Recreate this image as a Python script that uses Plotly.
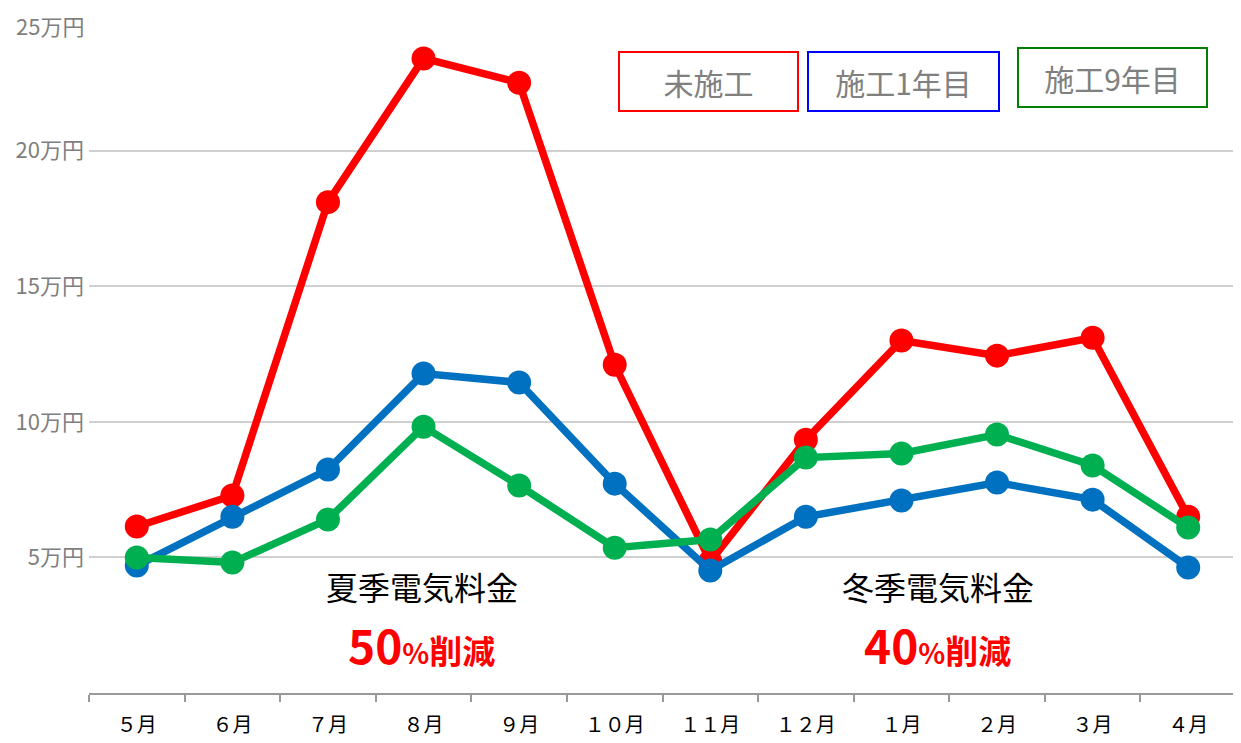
import plotly.graph_objects as go

months = ["５月", "６月", "７月", "８月", "９月", "１０月", "１１月", "１２月", "１月", "２月", "３月", "４月"]
untreated = [6.14, 7.28, 18.1, 23.4, 22.5, 12.1, 4.85, 9.34, 13.0, 12.44, 13.1, 6.5]
year1 = [4.7, 6.5, 8.24, 11.78, 11.45, 7.72, 4.52, 6.5, 7.1, 7.76, 7.13, 4.63]
year9 = [5.0, 4.81, 6.4, 9.82, 7.65, 5.36, 5.66, 8.68, 8.83, 9.53, 8.39, 6.1]
ytick_vals = [5, 10, 15, 20, 25]
ytick_text = ["5万円", "10万円", "15万円", "20万円", "25万円"]
series_names = ["未施工", "施工1年目", "施工9年目"]

RED = "#FF0000"
BLUE = "#0070C0"
GREEN = "#00B050"
FONT = "Noto Sans CJK JP"
YLABEL_FONT = dict(size=22, color="#7F7F7F", family=FONT)

fig = go.Figure()
for name, vals, col in [(series_names[0], untreated, RED),
                        (series_names[1], year1, BLUE),
                        (series_names[2], year9, GREEN)]:
    fig.add_trace(go.Scatter(
        x=months, y=vals, name=name, mode="lines+markers",
        line=dict(color=col, width=7.5),
        marker=dict(color=col, size=24),
        showlegend=False,
    ))

# the top tick label would be clipped at the page edge, so it is drawn
# as an annotation nudged slightly below its gridline (as in the original)
tick_text_axis = ytick_text[:-1] + [""]

# page body has an 8px margin, so the figure is sized/offset to compensate
fig.update_layout(
    width=1233, height=735,
    margin=dict(l=81, r=5, t=7, b=50),
    plot_bgcolor="white", paper_bgcolor="white",
    font=dict(family=FONT),
    xaxis=dict(
        type="category", range=[-0.5, 11.5], automargin=False,
        showline=True, linecolor="#999999", linewidth=2,
        ticks="outside", ticklen=7, tickwidth=2, tickcolor="#999999",
        tickson="boundaries", showgrid=False,
        tickfont=dict(size=20, color="#000000", family=FONT),
        ticklabelstandoff=13,
    ),
    yaxis=dict(
        range=[0, 25], tickvals=ytick_vals, ticktext=tick_text_axis, automargin=False,
        showgrid=True, gridcolor="#D0D0D0", gridwidth=1.5,
        zeroline=False, showline=False, ticks="",
        tickfont=YLABEL_FONT,
        ticklabelstandoff=4, ticklabeloverflow="allow",
    ),
)

fig.add_annotation(
    xref="paper", yref="y", x=0, y=ytick_vals[-1], text=ytick_text[-1],
    showarrow=False, xanchor="right", yanchor="top",
    xshift=-4, yshift=7, borderpad=0, font=YLABEL_FONT,
)

# legend-like boxes
boxes = [(series_names[0], RED, 0.540, 0.902, 177),
         (series_names[1], "#0000FF", 0.7097, 0.902, 189),
         (series_names[2], "#008000", 0.892, 0.908, 187)]
for text, col, x, y, w in boxes:
    fig.add_annotation(
        xref="paper", yref="paper", x=x, y=y, text=text, showarrow=False,
        font=dict(size=30, color="#808080", family=FONT),
        bordercolor=col, borderwidth=2, borderpad=0,
        width=w, height=57, bgcolor="white",
        xanchor="center", yanchor="middle",
    )

# season annotations
for label, pct, xpos in [("夏季電気料金", "50", 2.98), ("冬季電気料金", "40", 8.38)]:
    fig.add_annotation(
        xref="x", yref="y", x=xpos, y=3.93, text=label, showarrow=False,
        font=dict(size=32, color="#000000", family=FONT),
        xanchor="center", yanchor="middle",
    )
    fig.add_annotation(
        xref="x", yref="y", x=xpos, y=1.79,
        text=("<b><span style='font-size:46px'>" + pct + "</span>"
              "<span style='font-size:28px'>%</span>"
              "<span style='font-size:33px'>削減</span></b>"),
        showarrow=False,
        font=dict(size=33, color=RED, family=FONT),
        xanchor="center", yanchor="middle",
    )

fig.write_html("out.html")
